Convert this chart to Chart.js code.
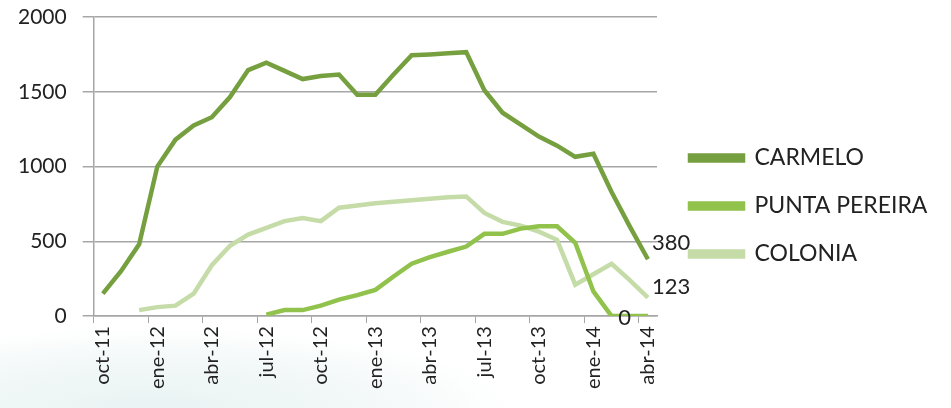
<!DOCTYPE html>
<html>
<head>
<meta charset="utf-8">
<script src="https://cdn.jsdelivr.net/npm/chart.js@4.4.1/dist/chart.umd.min.js"></script>
<style>
  html, body { margin: 0; padding: 0; background: #fff; }
  #wrap { position: relative; width: 951px; height: 408px;
    background: radial-gradient(ellipse 360px 80px at 150px 408px, #e9f3f3 0%, #f3f8f8 60%, rgba(255,255,255,0) 100%); }
</style>
</head>
<body>
<div id="wrap"><canvas id="mycanvas" width="951" height="408"></canvas></div>
<script>
var months = ["oct-11","nov-11","dic-11","ene-12","feb-12","mar-12","abr-12","may-12","jun-12",
  "jul-12","ago-12","sep-12","oct-12","nov-12","dic-12","ene-13","feb-13","mar-13","abr-13",
  "may-13","jun-13","jul-13","ago-13","sep-13","oct-13","nov-13","dic-13","ene-14","feb-14",
  "mar-14","abr-14"];

var carmelo = [150, 300, 480, 1000, 1180, 1275, 1330, 1465, 1645, 1695, 1640, 1585, 1605, 1615,
  1480, 1480, 1615, 1745, 1750, 1757, 1765, 1510, 1360, 1280, 1200, 1140, 1065, 1085, 830, 600, 380];

var puntaPereira = [null, null, null, null, null, null, null, null, null, 10, 40, 40, 70, 110,
  140, 175, 265, 350, 395, 430, 465, 550, 550, 585, 600, 600, 490, 165, 0, 0, 0];

var colonia = [null, null, 40, 60, 70, 150, 340, 470, 545, 590, 635, 655, 635, 725, 740, 755,
  765, 775, 785, 795, 800, 690, 630, 605, 565, 510, 210, 280, 350, 240, 123];

var yTicks = [0, 500, 1000, 1500, 2000];

var ctx = document.getElementById("mycanvas");
var gridGray = "#a6a6a6";
var fontFam = "Lato, 'Open Sans', sans-serif";

// value labels at the end of each line
var endLabels = {
  id: "endLabels",
  afterDatasetsDraw: function(chart) {
    var c = chart.ctx;
    var offs = [[4, -16, "left"], [-17, 2, "right"], [4, -11, "left"]];
    c.save();
    c.font = "22px " + fontFam;
    c.fillStyle = "#222";
    c.textBaseline = "middle";
    chart.data.datasets.forEach(function(ds, k) {
      var meta = chart.getDatasetMeta(k);
      var last = meta.data.length - 1;
      var pt = meta.data[last];
      c.textAlign = offs[k][2];
      c.fillText(String(ds.data[last]), pt.x + offs[k][0], pt.y + offs[k][1]);
    });
    c.restore();
  }
};

// legend column wider than the default cap, with a gap before it
var legendRoom = {
  id: "legendRoom",
  beforeInit: function(chart) {
    var fit = chart.legend.fit;
    chart.legend.fit = function() {
      fit.bind(chart.legend)();
      this.width = 277;
    };
  },
  afterLayout: function(chart) {
    var lg = chart.legend;
    lg.left += 8; lg.right += 8;
    lg.top += 10; lg.bottom += 10;
  }
};

var chartdata = {
  labels: months,
  datasets: [
    {
      label: "CARMELO",
      data: carmelo,
      borderColor: "#76a040",
      backgroundColor: "#76a040",
      borderWidth: 4.5,
      pointRadius: 0,
      lineTension: 0,
      fill: false
    },
    {
      label: "PUNTA PEREIRA",
      data: puntaPereira,
      borderColor: "#90c24c",
      backgroundColor: "#90c24c",
      borderWidth: 4.5,
      pointRadius: 0,
      lineTension: 0,
      fill: false
    },
    {
      label: "COLONIA",
      data: colonia,
      borderColor: "#c5dca8",
      backgroundColor: "#c5dca8",
      borderWidth: 4.5,
      pointRadius: 0,
      lineTension: 0,
      fill: false
    }
  ]
};

var LineGraph = new Chart(ctx, {
  type: "line",
  data: chartdata,
  plugins: [endLabels, legendRoom],
  options: {
    responsive: false,
    animation: false,
    layout: { padding: { top: 0, bottom: 16, left: 2, right: 17 } },
    plugins: {
      tooltip: { enabled: false },
      legend: {
        position: "right",
        labels: {
          boxWidth: 53,
          boxHeight: 5,
          padding: 25,
          color: "#222",
          font: { size: 23, family: fontFam }
        }
      }
    },
    scales: {
      x: {
        offset: true,
        grid: {
          offset: true,
          drawOnChartArea: false,
          tickLength: 7,
          tickColor: function(c) { return c.index % 3 === 0 ? gridGray : "rgba(0,0,0,0)"; }
        },
        border: { color: gridGray, width: 1.5 },
        ticks: {
          autoSkip: false,
          maxRotation: 90,
          minRotation: 90,
          color: "#222",
          font: { size: 20, family: fontFam },
          callback: function(v, i) { return i % 3 === 0 ? months[i] : ""; }
        }
      },
      y: {
        min: 0,
        max: 2000,
        afterBuildTicks: function(axis) {
          axis.ticks = yTicks.map(function(v) { return { value: v }; });
        },
        afterFit: function(axis) {
          axis.paddingTop = 17;
        },
        grid: { color: gridGray, lineWidth: 1.5, tickLength: 11 },
        border: { color: gridGray, width: 1.5 },
        ticks: {
          color: "#222",
          padding: 16,
          font: { size: 21, family: fontFam },
          callback: function(v) { return String(v); }
        }
      }
    }
  }
});
</script>
</body>
</html>
